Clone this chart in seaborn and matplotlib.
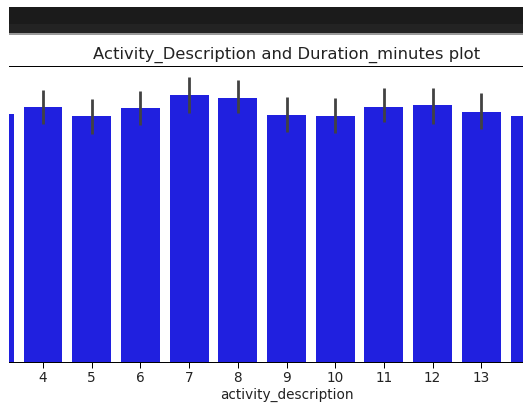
import seaborn as sns
import matplotlib.pyplot as plt
import matplotlib.patches as mpatches
import pandas as pd

# values (minutes)
activity_description = [3, 4, 5, 6, 7, 8, 9, 10, 11, 12, 13, 14]
mean_duration = [58.6, 60.4, 58.2, 60.1, 63.2, 62.5, 58.5, 58.2, 60.4, 60.7, 59.1, 58.1]
ci_low = [54.8, 56.3, 54.0, 56.0, 59.0, 58.8, 54.4, 54.1, 56.7, 56.4, 55.0, 54.2]
ci_high = [62.4, 64.3, 62.3, 64.2, 67.5, 66.7, 62.7, 62.5, 64.7, 64.7, 63.7, 62.2]

df = pd.DataFrame({"activity_description": activity_description,
                   "duration_minutes": mean_duration})

W, H, DPI = 523, 405, 89
fig = plt.figure(figsize=(W / DPI, H / DPI), dpi=DPI)

# dark notebook toolbar strip at the top of the screenshot
fig.patches.append(mpatches.Rectangle((9 / W, 1 - 24 / H), 1, 17 / H, transform=fig.transFigure,
                                      facecolor="#1b1b1b", edgecolor="none"))
fig.patches.append(mpatches.Rectangle((9 / W, 1 - 33 / H), 1, 9 / H, transform=fig.transFigure,
                                      facecolor="#232323", edgecolor="none"))
fig.patches.append(mpatches.Rectangle((9 / W, 1 - 34.5 / H), 1, 1.5 / H, transform=fig.transFigure,
                                      facecolor="#9a9a9a", edgecolor="none"))

# axes is wider than the crop, so its right part falls outside the picture
ax = fig.add_axes([9 / W, 43 / H, 555 / W, 296 / H])
sns.barplot(data=df, x="activity_description", y="duration_minutes",
            color="blue", errorbar=None, ax=ax)
ax.vlines(range(len(activity_description)), ci_low, ci_high,
          color=".26", linewidth=2.25)

ax.set_xlim(0.302, 11.698)
ax.set_ylim(0, 70)
ax.spines["left"].set_visible(False)
ax.set_yticks([])
ax.set_ylabel("")
ax.tick_params(axis="x", labelsize=11, length=4.5, pad=2.5, labelcolor="#222222")
ax.set_xlabel("activity_description", fontsize=11, labelpad=2.5, color="#222222")
ax.set_title("Activity_Description and Duration_minutes plot", fontsize=13.3, pad=6,
             color="#222222")

fig.savefig("out.png", dpi=DPI)
plt.close()
